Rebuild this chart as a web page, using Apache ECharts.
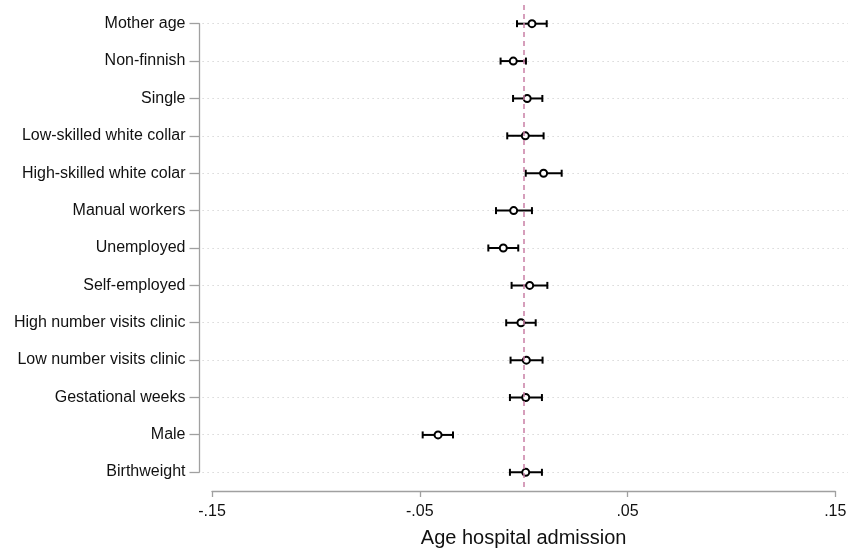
<!DOCTYPE html>
<html>
<head>
<meta charset="utf-8">
<script src="https://cdn.jsdelivr.net/npm/echarts@6/dist/echarts.min.js"></script>
<style>
  html, body { margin: 0; padding: 0; background: #fff; }
  #chart { width: 850px; height: 549px; }
</style>
</head>
<body>
<div id="chart"></div>
<script>
// Covariates, listed top to bottom
const categories = [
  'Mother age', 'Non-finnish', 'Single', 'Low-skilled white collar',
  'High-skilled white colar', 'Manual workers', 'Unemployed', 'Self-employed',
  'High number visits clinic', 'Low number visits clinic', 'Gestational weeks',
  'Male', 'Birthweight'
];
// Point estimates
const estimates = [0.0040, -0.0050, 0.0017, 0.0008, 0.0096, -0.0048, -0.0098,
  0.0029, -0.0013, 0.0013, 0.0010, -0.0412, 0.0010];
// Lower and upper confidence bounds
const lower = [-0.0032, -0.0111, -0.0051, -0.0079, 0.0010, -0.0133, -0.0170,
  -0.0058, -0.0084, -0.0063, -0.0066, -0.0486, -0.0066];
const upper = [0.0111, 0.0011, 0.0090, 0.0096, 0.0183, 0.0040, -0.0026,
  0.0114, 0.0058, 0.0091, 0.0088, -0.0340, 0.0088];
// X axis ticks
const xTicks = [-0.15, -0.05, 0.05, 0.15];
const xTitle = 'Age hospital admission';
// Reference line position
const refLine = 0;

const FONT = '"Liberation Sans", Arial, Helvetica, sans-serif';
const AXIS_GREY = '#a0a0a0';

function fmt(v) {
  const s = (Math.round(v * 100) / 100).toString();
  return s.replace(/^(-?)0\./, '$1.');
}

const chart = echarts.init(document.getElementById('chart'), null, { renderer: 'canvas' });

const option = {
  backgroundColor: '#ffffff',
  animation: false,
  textStyle: { fontFamily: FONT },
  grid: [
    // plot region
    { left: 212, right: 14.7, top: 5, bottom: 58, containLabel: false, outerBoundsMode: 'none' },
    // category labels and dotted guides
    { left: 199.5, right: 2, top: 23.7, bottom: 77, containLabel: false, outerBoundsMode: 'none' }
  ],
  xAxis: [
    {
      gridIndex: 0,
      type: 'value',
      min: xTicks[0],
      max: xTicks[xTicks.length - 1],
      interval: 0.1,
      axisLine: { show: true, lineStyle: { color: AXIS_GREY, width: 1.3 } },
      axisTick: { show: true, length: 6, lineStyle: { color: AXIS_GREY, width: 1.3 } },
      axisLabel: {
        margin: 13, fontSize: 16, color: '#111', fontFamily: FONT,
        formatter: fmt
      },
      splitLine: { show: false },
      name: xTitle,
      nameLocation: 'middle',
      nameGap: 37,
      nameTextStyle: { fontSize: 20, color: '#111', fontFamily: FONT }
    },
    {
      gridIndex: 1,
      type: 'value',
      show: false,
      min: 0, max: 1
    }
  ],
  yAxis: [
    {
      gridIndex: 0,
      type: 'category',
      data: categories,
      inverse: true,
      boundaryGap: true,
      show: false
    },
    {
      gridIndex: 1,
      type: 'category',
      data: categories,
      inverse: true,
      boundaryGap: false,
      axisLine: { show: true, lineStyle: { color: AXIS_GREY, width: 1.3 } },
      axisTick: { show: true, length: 10, interval: 0, lineStyle: { color: AXIS_GREY, width: 1.3 } },
      axisLabel: { margin: 14, fontSize: 16, color: '#111', fontFamily: FONT, interval: 0 },
      splitLine: {
        show: true, interval: 0,
        lineStyle: { color: '#cfcfcf', width: 1.2, type: [1.2, 3.8], dashOffset: -3 }
      }
    }
  ],
  series: [
    {
      // vertical dashed reference line
      name: 'ref',
      type: 'line',
      xAxisIndex: 0,
      yAxisIndex: 0,
      z: 1,
      data: [],
      markLine: {
        silent: true,
        symbol: ['none', 'none'],
        label: { show: false },
        lineStyle: { color: '#c97fa5', width: 1.5, type: [5, 4] },
        data: [{ xAxis: refLine }]
      }
    },
    {
      name: 'ci',
      type: 'custom',
      xAxisIndex: 0,
      yAxisIndex: 0,
      z: 3,
      encode: { x: [0, 1], y: 2 },
      data: categories.map((c, i) => [lower[i], upper[i], i]),
      renderItem: function (params, api) {
        const y = api.value(2);
        const a = api.coord([api.value(0), y]);
        const b = api.coord([api.value(1), y]);
        const h = 3.5;
        const style = { stroke: '#000', lineWidth: 2, fill: null };
        return {
          type: 'group',
          children: [
            { type: 'line', shape: { x1: a[0], y1: a[1], x2: b[0], y2: b[1] }, style: style },
            { type: 'line', shape: { x1: a[0], y1: a[1] - h, x2: a[0], y2: a[1] + h }, style: style },
            { type: 'line', shape: { x1: b[0], y1: b[1] - h, x2: b[0], y2: b[1] + h }, style: style }
          ]
        };
      }
    },
    {
      name: 'estimate',
      type: 'scatter',
      xAxisIndex: 0,
      yAxisIndex: 0,
      z: 4,
      symbol: 'circle',
      symbolSize: 7,
      itemStyle: { color: '#ffffff', borderColor: '#000000', borderWidth: 2, opacity: 1 },
      data: categories.map((c, i) => [estimates[i], c])
    }
  ]
};

chart.setOption(option);
</script>
</body>
</html>
